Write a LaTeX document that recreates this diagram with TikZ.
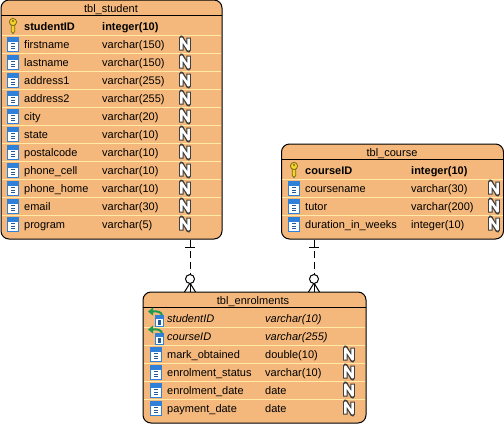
\documentclass[tikz,border=0pt]{standalone}
\usepackage{fontspec}
\setmainfont{Liberation Sans}
\definecolor{tblfill}{HTML}{F4B87C}
\definecolor{rowline}{HTML}{FFEBA6}
\definecolor{colblue}{HTML}{2F80D8}
\definecolor{keyyellow}{HTML}{F6D32A}
\definecolor{fkgreen}{HTML}{1E9A4E}
\tikzset{
    tblbox/.style={draw=black, fill=tblfill, line width=1pt, rounded corners=8pt, inner sep=0pt},
    rowtext/.style={anchor=base west, inner sep=0pt, font=\fontsize{11}{13}\selectfont},
    titletext/.style={anchor=base, inner sep=0pt, font=\fontsize{11}{13}\selectfont},
    pics/keyicon/.style={code={
        \draw[draw=black!50!keyyellow, fill=keyyellow, line width=.8pt]
            (-1.8,-2) -- (-1.8,5.5) -- (0,7.5) -- (1.8,5.5) -- (1.8,-2) -- cycle;
        \draw[draw=black!50!keyyellow, fill=keyyellow, line width=.8pt] (0,-4) circle (3.6);
        \fill[black!50!keyyellow] (0,-5) circle (1.1);
    }},
    pics/colicon/.style={code={
        \draw[colblue, fill=white, line width=1pt] (-5.5,-7) rectangle (5.5,7.5);
        \fill[colblue] (-5.5,-7) rectangle (5.5,-2.5);
        \foreach \k in {-.5,2,4.5} \draw[colblue!70!black, line width=1pt] (-2,\k) -- (2,\k);
    }},
    pics/fkicon/.style={code={
        \draw[colblue, fill=white, line width=1pt] (-.5,-2.5) rectangle (7,8);
        \fill[colblue] (-.5,-2.5) rectangle (7,.5);
        \fill[colblue!70!black] (2,2) rectangle (4.5,7);
        \draw[fkgreen, line width=2pt] (-3,-6.5) .. controls (2,-7) and (5,-6) .. (6,-3);
        \fill[fkgreen] (-8,-6.5) -- (-3,-10.5) -- (-3,-2.5) -- cycle;
    }},
    pics/nullicon/.style={code={
        \draw[black!75, line width=4.4pt, line join=round] (-3.6,6.5) -- (-3.6,-6.5) -- (3.6,6.5) -- (3.6,-6.5);
        \draw[white, line width=2.4pt, line join=round] (-3.6,5.5) -- (-3.6,-5.5) -- (3.6,5.5) -- (3.6,-5.5);
    }}
}
\begin{document}
\begin{tikzpicture}[x=1pt, y=-1pt]
\useasboundingbox (0,0) rectangle (504,424);

% Student table
\node[tblbox, minimum width=221pt, minimum height=239pt] (student) at (111.5,119.5) {};
\node[titletext] (studenttitle) at (111,12) {tbl\_student};
\draw[line width=1pt] (1,15) -- (222,15);
\pic at (13,26) {keyicon};
\node[rowtext] (studentkey) at (24,30) {\bfseries studentID};
\node[rowtext] (studentkeytype) at (102,30) {\bfseries integer(10)};
\foreach \colname/\coltype [count=\i from 1, evaluate=\i as \ypos using 26+18*\i] in {
    firstname/varchar(150), lastname/varchar(150), address1/varchar(255),
    address2/varchar(255), city/varchar(20), state/varchar(10),
    postalcode/varchar(10), phone\_cell/varchar(10), phone\_home/varchar(10),
    email/varchar(30), program/varchar(5)} {
    \draw[rowline] (2,\ypos-9) -- (221,\ypos-9);
    \pic at (13,\ypos) {colicon};
    \node[rowtext] (studentcol\i) at (24,\ypos+4) {\colname};
    \node[rowtext] (studenttype\i) at (102,\ypos+4) {\coltype};
    \pic at (185,\ypos) {nullicon};
}

% Course table
\node[tblbox, minimum width=222pt, minimum height=95pt] (course) at (392.5,191.5) {};
\node[titletext] (coursetitle) at (392,156) {tbl\_course};
\draw[line width=1pt] (281,159) -- (503.5,159);
\pic at (294,170) {keyicon};
\node[rowtext] (coursekey) at (305,174) {\bfseries courseID};
\node[rowtext] (coursekeytype) at (411,174) {\bfseries integer(10)};
\foreach \colname/\coltype [count=\i from 1, evaluate=\i as \ypos using 170+18*\i] in {
    coursename/varchar(30), tutor/varchar(200), duration\_in\_weeks/integer(10)} {
    \draw[rowline] (282,\ypos-9) -- (503,\ypos-9);
    \pic at (294,\ypos) {colicon};
    \node[rowtext] (coursecol\i) at (305,\ypos+4) {\colname};
    \node[rowtext] (coursetype\i) at (411,\ypos+4) {\coltype};
    \pic at (494,\ypos) {nullicon};
}

% Enrolments table
\node[tblbox, minimum width=223pt, minimum height=131pt] (enrol) at (254.5,357.5) {};
\node[titletext] (enroltitle) at (253,304) {tbl\_enrolments};
\draw[line width=1pt] (143,307) -- (366,307);
\foreach \colname/\coltype [count=\i from 0, evaluate=\i as \ypos using 318+18*\i] in {
    studentID/varchar(10), courseID/varchar(255)} {
    \ifnum\i>0 \draw[rowline] (144,\ypos-9) -- (365,\ypos-9); \fi
    \pic at (156,\ypos) {fkicon};
    \node[rowtext] (enrolfk\i) at (167,\ypos+4) {\itshape\colname};
    \node[rowtext] (enrolfktype\i) at (265,\ypos+4) {\itshape\coltype};
}
\foreach \colname/\coltype [count=\i from 1, evaluate=\i as \ypos using 336+18*\i] in {
    mark\_obtained/double(10), enrolment\_status/varchar(10),
    enrolment\_date/date, payment\_date/date} {
    \draw[rowline] (144,\ypos-9) -- (365,\ypos-9);
    \pic at (156,\ypos) {colicon};
    \node[rowtext] (enrolcol\i) at (167,\ypos+4) {\colname};
    \node[rowtext] (enroltype\i) at (265,\ypos+4) {\coltype};
    \pic at (349,\ypos) {nullicon};
}

% Relationships
\coordinate (relstudent) at (190,292);
\coordinate (relcourse) at (314,292);
\foreach \parent in {student, course} {
    \draw[line width=1pt, dash pattern=on 7pt off 4pt] (\parent.south -| rel\parent) -- (rel\parent);
    \draw[line width=1pt] ([xshift=-5pt, yshift=45pt]rel\parent) -- ([xshift=5pt, yshift=45pt]rel\parent);
    \draw[line width=1pt] (rel\parent) -- ([yshift=9pt]rel\parent);
    \draw[line width=1pt] ([xshift=-5.5pt]rel\parent) -- ([yshift=9pt]rel\parent) -- ([xshift=5.5pt]rel\parent);
    \draw[line width=1pt, fill=white] ([yshift=13pt]rel\parent) circle (4.5);
}
\end{tikzpicture}
\end{document}
